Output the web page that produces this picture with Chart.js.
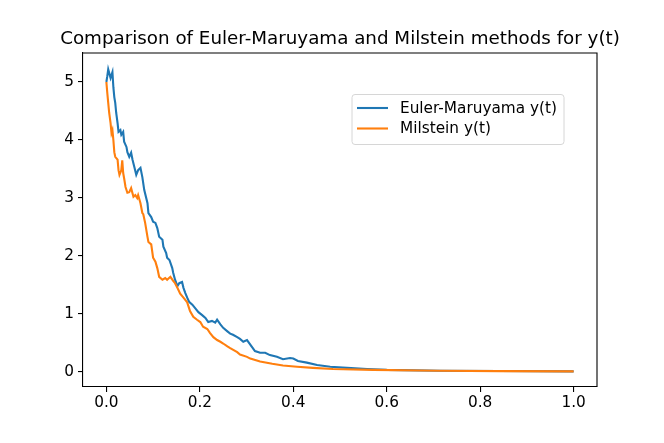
<!DOCTYPE html>
<html>
<head>
<meta charset="utf-8">
<script src="https://cdn.jsdelivr.net/npm/chart.js@4"></script>
<style>
  html, body { margin: 0; padding: 0; background: #fff; }
</style>
</head>
<body>
<canvas id="chart" width="664" height="443"></canvas>
<script>
// values
const eulerT = [0, 0.002, 0.004, 0.009, 0.013, 0.015, 0.017, 0.019, 0.021, 0.024, 0.026, 0.030, 0.032, 0.036,
  0.038, 0.043, 0.045, 0.049, 0.053, 0.056, 0.060, 0.064, 0.068, 0.073, 0.077, 0.081, 0.088, 0.090, 0.096,
  0.100, 0.105, 0.109, 0.113, 0.120, 0.122, 0.128, 0.130, 0.135, 0.141, 0.143, 0.147, 0.152, 0.156, 0.162,
  0.165, 0.169, 0.173, 0.177, 0.184, 0.190, 0.197, 0.205, 0.212, 0.218, 0.226, 0.233, 0.237, 0.244, 0.250,
  0.259, 0.265, 0.271, 0.280, 0.286, 0.293, 0.301, 0.308, 0.318, 0.329, 0.340, 0.350, 0.365, 0.378, 0.393,
  0.400, 0.410, 0.429, 0.451, 0.479, 0.515, 0.558, 0.600, 0.714, 0.842, 1.0];
const eulerY = [5.00, 5.10, 5.22, 5.07, 5.17, 4.91, 4.74, 4.64, 4.47, 4.29, 4.14, 4.17, 4.09, 4.14,
  3.97, 3.88, 3.79, 3.71, 3.78, 3.66, 3.53, 3.40, 3.48, 3.52, 3.36, 3.14, 2.91, 2.74, 2.67,
  2.59, 2.57, 2.48, 2.33, 2.28, 2.16, 2.05, 1.97, 1.93, 1.79, 1.71, 1.59, 1.48, 1.53, 1.55,
  1.45, 1.36, 1.28, 1.21, 1.16, 1.10, 1.03, 0.98, 0.93, 0.86, 0.88, 0.85, 0.90, 0.82, 0.76,
  0.70, 0.66, 0.64, 0.60, 0.57, 0.52, 0.55, 0.47, 0.36, 0.33, 0.33, 0.29, 0.26, 0.22, 0.24,
  0.23, 0.19, 0.16, 0.12, 0.09, 0.07, 0.05, 0.035, 0.02, 0.015, 0.01];

const milsteinT = [0, 0.002, 0.004, 0.006, 0.009, 0.011, 0.013, 0.015, 0.017, 0.019, 0.024, 0.026, 0.028,
  0.032, 0.034, 0.036, 0.038, 0.041, 0.045, 0.049, 0.053, 0.058, 0.062, 0.066, 0.068, 0.073, 0.077, 0.079,
  0.083, 0.088, 0.090, 0.096, 0.100, 0.105, 0.109, 0.113, 0.120, 0.126, 0.130, 0.137, 0.143, 0.147, 0.152,
  0.158, 0.165, 0.173, 0.179, 0.186, 0.194, 0.201, 0.207, 0.216, 0.222, 0.229, 0.237, 0.244, 0.250, 0.259,
  0.265, 0.280, 0.286, 0.301, 0.308, 0.329, 0.355, 0.378, 0.408, 0.442, 0.485, 0.571, 0.714, 0.842, 1.0];
const milsteinY = [5.00, 4.81, 4.64, 4.47, 4.29, 4.12, 4.17, 4.00, 3.79, 3.71, 3.66, 3.48, 3.40,
  3.48, 3.65, 3.43, 3.34, 3.19, 3.09, 3.10, 3.17, 3.02, 3.05, 3.00, 3.05, 2.91, 2.74, 2.72,
  2.57, 2.33, 2.24, 2.20, 1.97, 1.90, 1.79, 1.64, 1.59, 1.62, 1.59, 1.64, 1.57, 1.53, 1.45,
  1.35, 1.28, 1.20, 1.05, 0.95, 0.90, 0.86, 0.78, 0.74, 0.67, 0.60, 0.55, 0.52, 0.49, 0.44,
  0.41, 0.34, 0.30, 0.26, 0.23, 0.18, 0.14, 0.11, 0.09, 0.07, 0.05, 0.035, 0.02, 0.013, 0.01];

const xTicks = [0, 0.2, 0.4, 0.6, 0.8, 1.0];
const yTicks = [0, 1, 2, 3, 4, 5];
const seriesLabels = ["Euler-Maruyama y(t)", "Milstein y(t)"];
const seriesColors = ["#1f77b4", "#ff7f0e"];
const titleText = "Comparison of Euler-Maruyama and Milstein methods for y(t)";

Chart.defaults.font.family = "'DejaVu Sans', sans-serif";
Chart.defaults.color = "#000";

const tickFont = { size: 15.3 };

// top and right spines like matplotlib, plus the title centred over the axes
const framePlugin = {
  id: "frame",
  afterDraw(chart) {
    const { ctx, chartArea: a } = chart;
    ctx.save();
    ctx.strokeStyle = "#000";
    ctx.lineWidth = 1.1;
    ctx.beginPath();
    ctx.moveTo(a.left, a.top);
    ctx.lineTo(a.right, a.top);
    ctx.lineTo(a.right, a.bottom);
    ctx.stroke();
    ctx.font = "18.3px 'DejaVu Sans'";
    ctx.fillStyle = "#000";
    ctx.textAlign = "center";
    ctx.textBaseline = "alphabetic";
    ctx.fillText(titleText, (a.left + a.right) / 2, a.top - 9);
    ctx.restore();
  },
};

// legend box inside the axes, upper right
const legendPlugin = {
  id: "boxLegend",
  afterDraw(chart) {
    const { ctx } = chart;
    const box = { x: 352, y: 94.5, w: 212, h: 50 };
    ctx.save();
    ctx.beginPath();
    ctx.roundRect(box.x, box.y, box.w, box.h, 3);
    ctx.fillStyle = "rgba(255,255,255,0.8)";
    ctx.fill();
    ctx.strokeStyle = "#d6d6d6";
    ctx.lineWidth = 1;
    ctx.stroke();
    ctx.font = "15.3px 'DejaVu Sans'";
    ctx.textBaseline = "middle";
    chart.data.datasets.forEach((dataset, i) => {
      const y = 108 + i * 20.5;
      ctx.strokeStyle = dataset.borderColor;
      ctx.lineWidth = 2.1;
      ctx.beginPath();
      ctx.moveTo(357, y);
      ctx.lineTo(388, y);
      ctx.stroke();
      ctx.fillStyle = "#000";
      ctx.fillText(dataset.label, 400, y + 1);
    });
    ctx.restore();
  },
};

new Chart(document.querySelector("#chart"), {
  type: "line",
  data: {
    datasets: [
      {
        label: seriesLabels[0],
        data: eulerT.map((t, i) => ({ x: t, y: eulerY[i] })),
        borderColor: seriesColors[0],
        borderWidth: 2.1,
        pointRadius: 0,
        tension: 0,
        order: 1,
      },
      {
        label: seriesLabels[1],
        data: milsteinT.map((t, i) => ({ x: t, y: milsteinY[i] })),
        borderColor: seriesColors[1],
        borderWidth: 2.1,
        pointRadius: 0,
        tension: 0,
        order: 0,
      },
    ],
  },
  options: {
    responsive: false,
    animation: false,
    layout: { padding: { left: 0, right: 67, top: 53, bottom: 0 } },
    plugins: {
      legend: { display: false },
      tooltip: { enabled: false },
      title: { display: false },
    },
    scales: {
      x: {
        type: "linear",
        min: -0.05,
        max: 1.05,
        afterBuildTicks: (scale) => {
          scale.ticks = xTicks.map((value) => ({ value }));
        },
        afterFit: (scale) => {
          scale.height = 56;
        },
        ticks: {
          font: tickFont,
          color: "#000",
          padding: 2,
          maxRotation: 0,
          callback: (value) => value.toFixed(1),
        },
        grid: { drawOnChartArea: false, tickLength: 5, color: "#000", lineWidth: 1.1 },
        border: { color: "#000", width: 1.1 },
      },
      y: {
        type: "linear",
        min: -0.26,
        max: 5.5,
        afterBuildTicks: (scale) => {
          scale.ticks = yTicks.map((value) => ({ value }));
        },
        afterFit: (scale) => {
          scale.width = 83;
        },
        ticks: {
          font: tickFont,
          color: "#000",
          padding: 4,
          callback: (value) => String(value),
        },
        grid: { drawOnChartArea: false, tickLength: 5, color: "#000", lineWidth: 1.1 },
        border: { color: "#000", width: 1.1 },
      },
    },
  },
  plugins: [framePlugin, legendPlugin],
});
</script>
</body>
</html>
